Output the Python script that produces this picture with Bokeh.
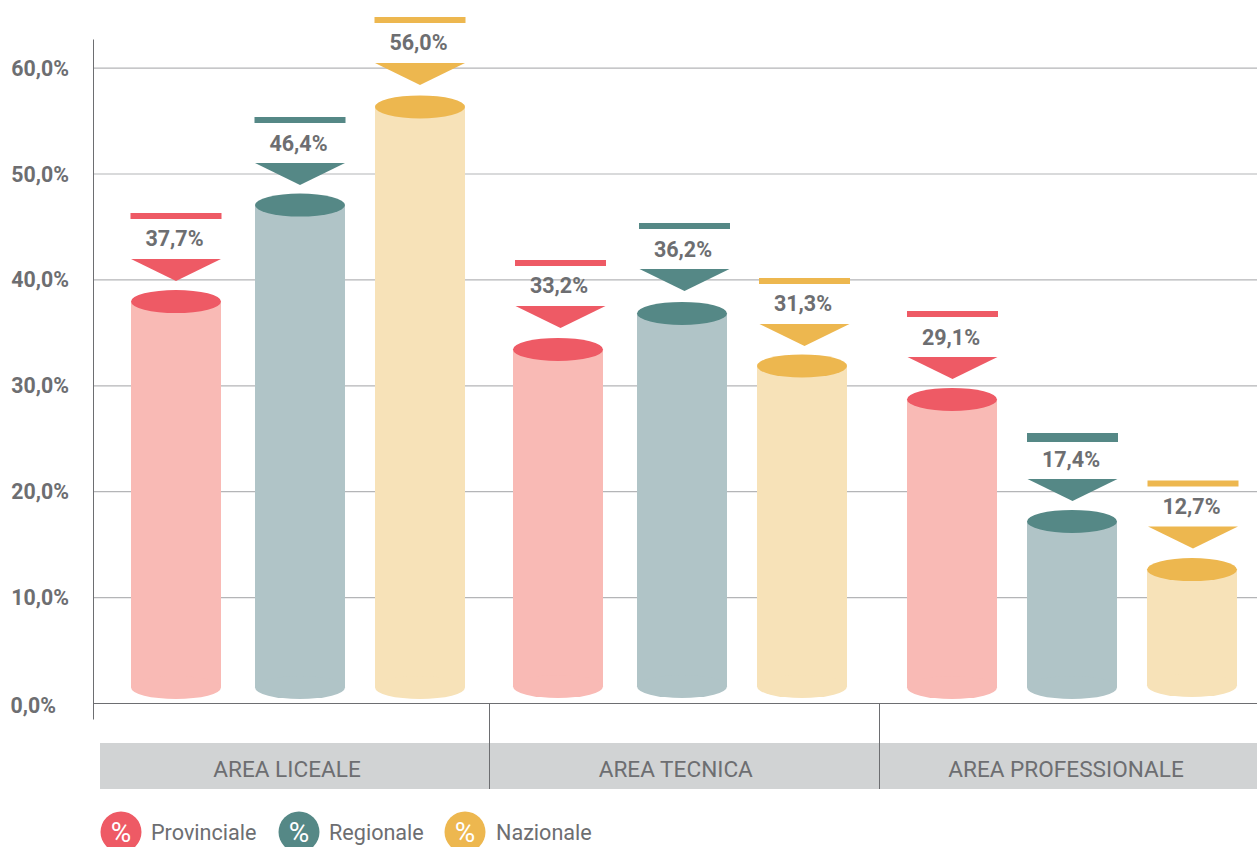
from bokeh.plotting import figure
from bokeh.models import Range1d, FixedTicker, ColumnDataSource
from bokeh.core.properties import value
from bokeh.embed import file_html
from bokeh.resources import INLINE

# --- data ---
areas = ["AREA LICEALE", "AREA TECNICA", "AREA PROFESSIONALE"]
series = ["Provinciale", "Regionale", "Nazionale"]
labels = ["37,7%", "46,4%", "56,0%", "33,2%", "36,2%", "31,3%", "29,1%", "17,4%", "12,7%"]
drawn_tops = [37.96, 47.07, 56.33, 33.43, 36.83, 31.87, 28.71, 17.19, 12.65]
marker_tips = [39.90, 48.96, 58.41, 35.46, 38.95, 33.76, 30.64, 19.12, 14.64]
tick_values = [0, 10, 20, 30, 40, 50, 60]
tick_labels = ["0,0%", "10,0%", "20,0%", "30,0%", "40,0%", "50,0%", "60,0%"]

# --- styling / layout ---
W, H = 1257, 847
Y0, K = 703.5, 10.59
def py(px):
    return (Y0 - px) / K

DARK = ["#ee5a65", "#558886", "#edb74f"]
LIGHT = ["#f9bab5", "#b0c4c7", "#f7e2b8"]
GREY = "#6d6e71"
FONT = value("Roboto")

cyl_x = [176, 300, 420, 558, 682, 802, 952, 1072, 1192]
mark_x = [176, 300, 420, 560.5, 684.5, 804.5, 952.5, 1072.5, 1193]
base_px = [699, 699, 699, 698, 698, 698, 699, 699, 697]
mark_bar_h = [6, 6, 6, 6, 6, 6, 6, 9, 6]
colour_i = [0, 1, 2] * 3

p = figure(width=W, height=H, output_backend="svg", toolbar_location=None,
           x_range=Range1d(0.5, W + 0.5), y_range=Range1d(py(H + 0.5), py(0.5)),
           min_border=0, outline_line_color=None, background_fill_color="white")
p.styles = {"position": "absolute", "left": "0", "top": "0"}
p.xaxis.visible = False
p.xgrid.visible = False
p.ygrid.visible = False

# y axis
ax = p.yaxis[0]
ax.fixed_location = 93
ax.bounds = (py(719), py(39))
ax.ticker = FixedTicker(ticks=tick_values)
ax.major_label_overrides = {v: (t if v else " ") for v, t in zip(tick_values, tick_labels)}
ax.major_tick_line_color = None
ax.minor_tick_line_color = None
ax.axis_line_color = GREY
ax.axis_line_width = 1
ax.major_label_standoff = 18
ax.major_label_text_font = "Roboto"
ax.major_label_text_font_style = "bold"
ax.major_label_text_font_size = "21.3px"
ax.major_label_text_color = GREY
# the zero label starts flush with the others in the reference, so it is placed on its own
p.text(x=[10.5], y=[py(705)], text=tick_labels[:1], text_align="left", text_baseline="middle",
       text_font=FONT, text_font_style="bold", text_font_size="21.3px", text_color=GREY)

# grid + baseline
p.segment(x0=[93] * 6, x1=[W + 1] * 6, y0=tick_values[1:], y1=tick_values[1:], line_color="#b4b5b7", line_width=1.2)
p.segment(x0=[93], x1=[W + 1], y0=[0], y1=[0], line_color=GREY, line_width=1)

# category band
p.quad(left=[100], right=[W + 1], top=[py(743)], bottom=[py(789)], fill_color="#d1d3d4", line_color=None)
p.segment(x0=[489.5, 879.5], x1=[489.5, 879.5], y0=[py(704)] * 2, y1=[py(789)] * 2, line_color=GREY, line_width=1)
p.text(x=[287, 676, 1066], y=[py(769)] * 3, text=areas, text_align="center", text_baseline="middle",
       text_font=FONT, text_font_size="22.6px", text_color=GREY)

# cylinders
dark = [DARK[i] for i in colour_i]
light = [LIGHT[i] for i in colour_i]
base_c = [py(b - 11.5) for b in base_px]
cyl = ColumnDataSource(dict(x=cyl_x, top=drawn_tops, base=base_c, dark=dark, light=light))
p.vbar(x="x", top="top", bottom="base", width=90, fill_color="light", line_color=None, source=cyl)
p.ellipse(x="x", y="base", width=90, height=23, width_units="screen", height_units="screen",
          fill_color="light", line_color=None, source=cyl)
p.ellipse(x="x", y="top", width=90, height=23, width_units="screen", height_units="screen",
          fill_color="dark", line_color=None, source=cyl)

# markers above the cylinders
px_u = 1 / K
tri_xs = [[m - 45, m + 45, m] for m in mark_x]
tri_ys = [[t + 22 * px_u, t + 22 * px_u, t] for t in marker_tips]
p.patches(xs=tri_xs, ys=tri_ys, fill_color=dark, line_color=None)
p.quad(left=[m - 45.5 for m in mark_x], right=[m + 45.5 for m in mark_x],
       top=[t + 68 * px_u for t in marker_tips],
       bottom=[t + (68 - h) * px_u for t, h in zip(marker_tips, mark_bar_h)],
       fill_color=dark, line_color=None)
p.text(x=[m - 1.5 for m in mark_x], y=[t + 42 * px_u for t in marker_tips], text=labels,
       text_align="center", text_baseline="middle", text_font=FONT, text_font_style="bold",
       text_font_size="21.5px", text_color=GREY)

# legend
leg_c = [121, 299, 465]
leg_t = [151, 329, 496]
p.ellipse(x=leg_c, y=[py(832)] * 3, width=41, height=41, width_units="screen", height_units="screen",
          fill_color=DARK, line_color=None)
p.text(x=leg_c, y=[py(832)] * 3, text=["%"] * 3, text_align="center", text_baseline="middle",
       text_font=FONT, text_font_size="28px", text_color="white")
p.text(x=leg_t, y=[py(832)] * 3, text=series, text_align="left", text_baseline="middle",
       text_font=FONT, text_font_size="21.6px", text_color=GREY)

open("out.html", "w").write(file_html(p, INLINE))
